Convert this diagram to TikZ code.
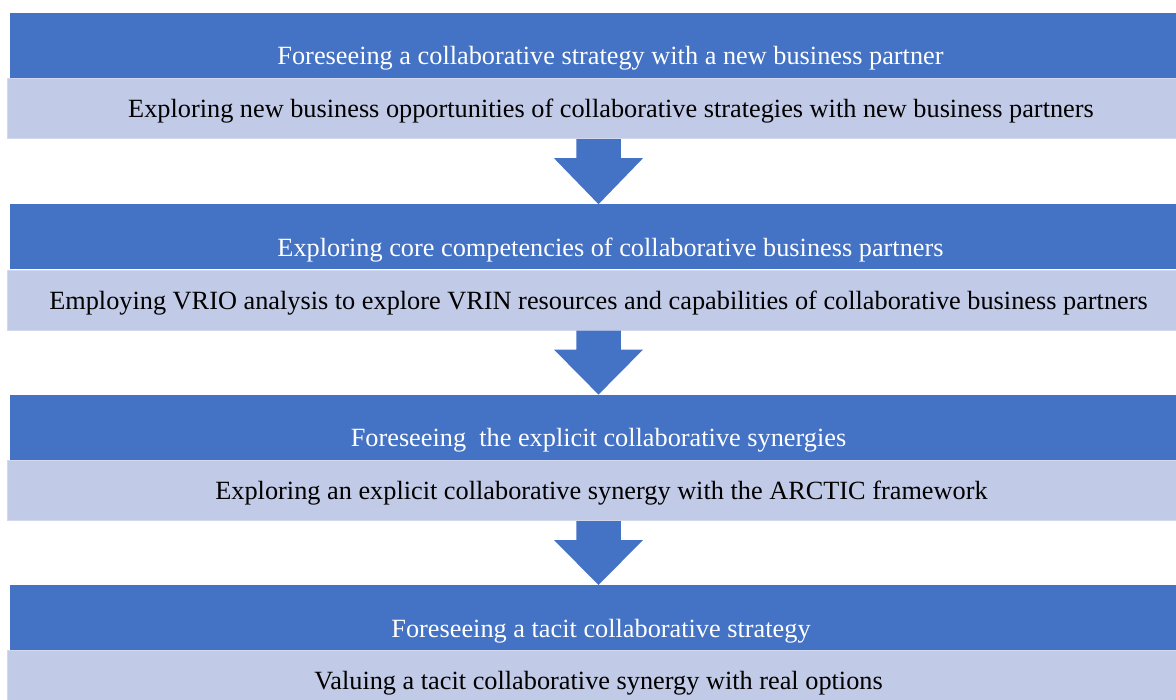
\documentclass[tikz,border=0pt]{standalone}
\usepackage{fontspec}
\setmainfont{Liberation Serif}
\usetikzlibrary{calc,positioning}

\definecolor{hdblue}{HTML}{4472C4}
\definecolor{subblue}{HTML}{C1CAE6}
\definecolor{subedge}{HTML}{D2D8EE}

\tikzset{
  hdbox/.style={rectangle,fill=hdblue,text=white,inner sep=0pt,
    minimum width=1177pt,minimum height=65pt,
    text height=44pt,text depth=5pt,font=\fontsize{26.3}{31}\selectfont},
  subbox/.style={rectangle,fill=subblue,draw=subedge,line width=1pt,inner sep=0pt,
    minimum width=1183pt,minimum height=60pt,
    text height=20pt,text depth=2pt,font=\fontsize{26.3}{31}\selectfont},
}

% block arrow from a light band down to the next dark band
\newcommand{\flowarrow}[2]{%
  \fill[hdblue] ($(#1.south)+(-22.25,0)$) -- ++(0,-19) -- ++(-22.25,0)
    -- (#2.north) -- ($(#1.south)+(44.5,-19)$) -- ++(-22.25,0)
    -- ($(#1.south)+(22.25,0)$) -- cycle;}

\begin{document}
\begin{tikzpicture}[x=1pt,y=1pt]
  \useasboundingbox (0,0) rectangle (1176,-700);
  \clip (0,0) rectangle (1176,-700);
  % stages
  \node[hdbox] (hdA) at (598.5,-45.5) {\hspace*{24pt}Foreseeing a collaborative strategy with a new business partner};
  \node[subbox,below=0pt of hdA] (subA) {\hspace*{25pt}Exploring new business opportunities of collaborative strategies with new business partners};
  \node[hdbox,below=65pt of subA] (hdB) {\hspace*{24pt}Exploring core competencies of collaborative business partners};
  \node[subbox,below=0pt of hdB] (subB) {Employing VRIO analysis to explore VRIN resources and capabilities of collaborative business partners};
  \node[hdbox,below=64pt of subB] (hdC) {Foreseeing~ the explicit collaborative synergies};
  \node[subbox,below=0pt of hdC] (subC) {\hspace*{6pt}Exploring an explicit collaborative synergy with the ARCTIC framework};
  \node[hdbox,below=64pt of subC] (hdD) {\hspace*{5pt}Foreseeing a tacit collaborative strategy};
  \node[subbox,below=0pt of hdD] (subD) {Valuing a tacit collaborative synergy with real options};
  % arrows
  \flowarrow{subA}{hdB}
  \flowarrow{subB}{hdC}
  \flowarrow{subC}{hdD}
\end{tikzpicture}
\end{document}
